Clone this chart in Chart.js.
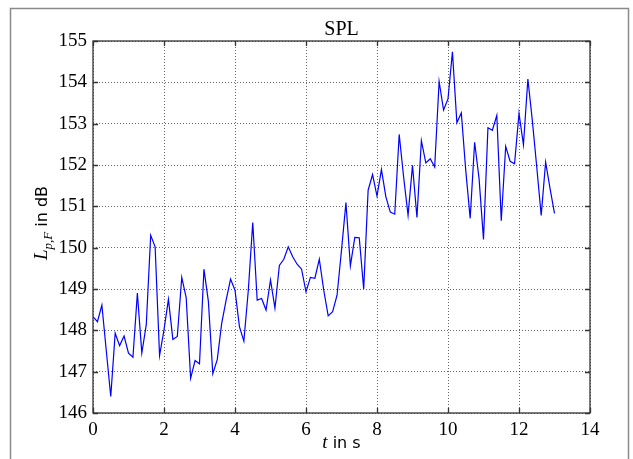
<!DOCTYPE html>
<html>
<head>
<meta charset="utf-8">
<script src="https://cdn.jsdelivr.net/npm/chart.js@4.4.0/dist/chart.umd.min.js"></script>
<style>
  html, body { margin: 0; padding: 0; background: #fff; }
  #wrap { width: 633px; height: 459px; }
</style>
</head>
<body>
<div id="wrap"><canvas id="spl-chart" width="633" height="459"></canvas></div>
<script>
// sampling interval of the level readings (s)
const sampleStep = 0.125;
// L_p,F readings in dB, one per sample
const splValues = [
  148.33, 148.21, 148.61, 147.5, 146.40, 147.93, 147.63, 147.86, 147.45, 147.35,
  148.90, 147.45, 148.13, 150.30, 150.02, 147.39, 148.01, 148.75, 147.78, 147.85,
  149.28, 148.79, 146.84, 147.27, 147.19, 149.48, 148.7, 146.95, 147.29, 148.17,
  148.73, 149.24, 148.97, 148.09, 147.74, 148.97, 150.61, 148.73, 148.77, 148.49,
  149.22, 148.54, 149.57, 149.72, 150.02, 149.78, 149.60, 149.48, 148.93, 149.28,
  149.26, 149.72, 148.97, 148.35, 148.45, 148.85, 149.94, 151.09, 149.56, 150.25,
  150.24, 149.0, 151.39, 151.77, 151.25, 151.89, 151.23, 150.86, 150.81, 152.74,
  151.71, 150.78, 151.99, 150.73, 152.59, 152.05, 152.15, 151.95, 154.02, 153.33,
  153.6, 154.74, 153.02, 153.26, 151.87, 150.71, 152.55, 151.67, 150.20, 152.90,
  152.84, 153.20, 150.65, 152.45, 152.09, 152.03, 153.25, 152.49, 154.08, 153.08,
  151.95, 150.78, 152.07, 151.43, 150.83
];
const xTicks = [0, 2, 4, 6, 8, 10, 12, 14];
const yTicks = [146, 147, 148, 149, 150, 151, 152, 153, 154, 155];

const points = splValues.map((v, i) => ({ x: i * sampleStep, y: v }));

const serif = '"Liberation Serif", "Times New Roman", serif';
const sans = '"DejaVu Sans", sans-serif';

// MATLAB style box, inward ticks and labels
const matlabFrame = {
  id: 'matlabFrame',
  afterDraw(chart) {
    const ctx = chart.ctx;
    const a = chart.chartArea;
    const xs = chart.scales.x, ys = chart.scales.y;
    ctx.save();
    // figure border
    ctx.strokeStyle = '#8a8a8a';
    ctx.lineWidth = 1.5;
    ctx.strokeRect(10.5, 8.5, 618, 470);
    // axes box
    ctx.strokeStyle = '#333';
    ctx.lineWidth = 1.3;
    ctx.strokeRect(a.left, a.top, a.right - a.left, a.bottom - a.top);
    // inward ticks
    ctx.beginPath();
    xTicks.forEach(t => {
      const px = Math.round(xs.getPixelForValue(t)) + 0.5;
      ctx.moveTo(px, a.bottom); ctx.lineTo(px, a.bottom - 5);
      ctx.moveTo(px, a.top); ctx.lineTo(px, a.top + 5);
    });
    yTicks.forEach(t => {
      const py = Math.round(ys.getPixelForValue(t)) + 0.5;
      ctx.moveTo(a.left, py); ctx.lineTo(a.left + 5, py);
      ctx.moveTo(a.right, py); ctx.lineTo(a.right - 5, py);
    });
    ctx.stroke();

    ctx.fillStyle = '#000';
    // title
    ctx.font = '20px ' + serif;
    ctx.textAlign = 'center';
    ctx.textBaseline = 'alphabetic';
    ctx.fillText('SPL', (a.left + a.right) / 2, 35);

    // x label: italic t + " in s"
    const cx = (a.left + a.right) / 2;
    ctx.font = 'italic 19px ' + serif;
    const tW = ctx.measureText('t').width;
    ctx.font = '16px ' + sans;
    const restX = ' in s';
    const rW = ctx.measureText(restX).width;
    let x0 = cx - (tW + rW) / 2;
    ctx.textAlign = 'left';
    ctx.font = 'italic 19px ' + serif;
    ctx.fillText('t', x0, 448);
    ctx.font = '16px ' + sans;
    ctx.fillText(restX, x0 + tW, 448);

    // y label: L_{p,F} in dB, rotated
    ctx.translate(47, (a.top + a.bottom) / 2 - 4);
    ctx.rotate(-Math.PI / 2);
    ctx.font = 'italic 19px ' + serif;
    const lW = ctx.measureText('L').width;
    ctx.font = 'italic 13px ' + serif;
    const sW = ctx.measureText('p,F').width;
    ctx.font = '16px ' + sans;
    const dW = ctx.measureText(' in dB').width;
    let y0 = -(lW + sW + dW) / 2;
    ctx.font = 'italic 19px ' + serif;
    ctx.fillText('L', y0, 0);
    ctx.font = 'italic 13px ' + serif;
    ctx.fillText('p,F', y0 + lW, 5);
    ctx.font = '16px ' + sans;
    ctx.fillText(' in dB', y0 + lW + sW, 0);
    ctx.restore();
  }
};

new Chart(document.getElementById('spl-chart'), {
  type: 'line',
  data: {
    datasets: [{
      data: points,
      borderColor: '#0000ff',
      borderWidth: 1.2,
      pointRadius: 0,
      tension: 0,
      fill: false
    }]
  },
  options: {
    responsive: false,
    animation: false,
    layout: { padding: { left: 0, right: 43, top: 41, bottom: 0 } },
    plugins: { legend: { display: false }, tooltip: { enabled: false } },
    scales: {
      x: {
        type: 'linear',
        min: 0,
        max: 14,
        afterFit: s => { s.height = 46; },
        afterBuildTicks: s => { s.ticks = xTicks.map(v => ({ value: v })); },
        grid: { color: 'rgba(0,0,0,0.6)', lineWidth: 1, drawTicks: false },
        border: { display: false, dash: [1, 2] },
        ticks: { padding: 6, color: '#000', font: { family: serif, size: 19 }, maxRotation: 0 }
      },
      y: {
        min: 146,
        max: 155,
        afterFit: s => { s.width = 93; },
        afterBuildTicks: s => { s.ticks = yTicks.map(v => ({ value: v })); },
        grid: { color: 'rgba(0,0,0,0.6)', lineWidth: 1, drawTicks: false },
        border: { display: false, dash: [1, 2] },
        ticks: { padding: 6, color: '#000', font: { family: serif, size: 19 } }
      }
    }
  },
  plugins: [matlabFrame]
});
</script>
</body>
</html>
